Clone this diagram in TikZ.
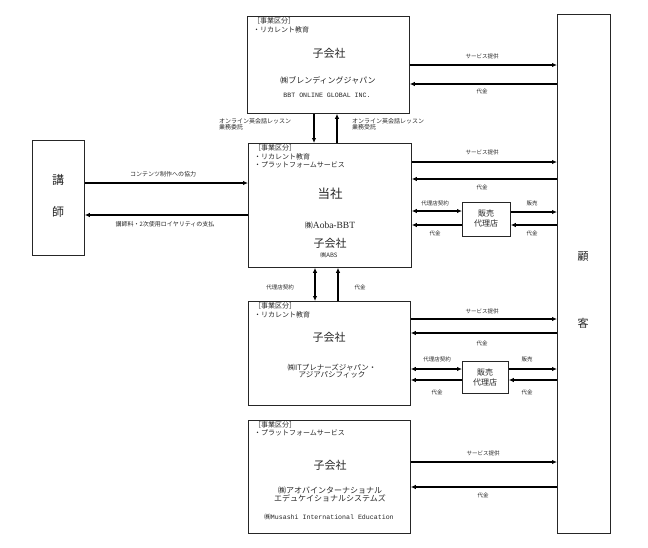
\documentclass[tikz,border=0pt]{standalone}
\usepackage{fontspec}
\setmainfont{Noto Sans CJK JP}
\newfontfamily\lmono{Liberation Mono}
\newfontfamily\lserif{Liberation Serif}
\usetikzlibrary{arrows.meta}
\newcommand\fs[1]{\fontsize{#1}{#1}\selectfont}
\begin{document}
\begin{tikzpicture}[x=1pt,y=-1pt,
  box/.style={draw=black!85, line width=0.8pt, inner sep=0, anchor=north west},
  arr/.style={line width=1.3pt, -{Latex[length=5pt,width=4.5pt]}},
  darr/.style={line width=1.3pt, {Latex[length=5pt,width=4.5pt]}-{Latex[length=5pt,width=4.5pt]}},
  lbl/.style={font=\fs{6}, inner sep=0, text=black!85},
  slbl/.style={font=\fs{5.5}, inner sep=0, text=black!85},
  head/.style={font=\fs{7}, inner sep=0, anchor=west, text=black!85},
  big/.style={font=\fs{11}, inner sep=0, text=black!85},
  mid/.style={font=\fs{8}, inner sep=0, text=black!85, align=center}]
\useasboundingbox (0,0) rectangle (648,547);

% boxes
\node[box, minimum width=162pt, minimum height=97pt] (top) at (247,16) {};
\node[box, minimum width=163pt, minimum height=124pt] (main) at (248,143) {};
\node[box, minimum width=162pt, minimum height=104pt] (it) at (248,301) {};
\node[box, minimum width=162pt, minimum height=113pt] (aoba) at (248,420) {};
\node[box, minimum width=52pt, minimum height=115pt] (teach) at (32,140) {};
\node[box, minimum width=53pt, minimum height=519pt] (cust) at (557,14) {};
\node[box, minimum width=48pt, minimum height=34pt] (ag1) at (462,202) {};
\node[box, minimum width=46pt, minimum height=32pt] (ag2) at (462,361) {};

% top box text
\node[head] (t1) at (253,21) {［事業区分］};
\node[head] (t2) at (253,30) {・リカレント教育};
\node[big] (t3) at (329,53) {子会社};
\node[mid] (t4) at (328,80) {㈱ブレンディングジャパン};
\node[inner sep=0, font=\lmono\fs{6.6}, text=black!85] (t5) at (327,95) {BBT ONLINE GLOBAL INC.};

% main box text
\node[head] (m1) at (254,148) {［事業区分］};
\node[head] (m2) at (254,157) {・リカレント教育};
\node[head] (m3) at (254,165) {・プラットフォームサービス};
\node[font=\fs{12.5}, inner sep=0, text=black!85] (m4) at (330,194) {当社};
\node[inner sep=0, text=black!85] (m5) at (330,225) {{\fs{8}㈱}{\lserif\fs{9.5}Aoba-BBT}};
\node[big] (m6) at (330,243) {子会社};
\node[inner sep=0, font=\fs{6}, text=black!85] (m7) at (329,255) {㈱ABS};

% it box text
\node[head] (i1) at (254,306) {［事業区分］};
\node[head] (i2) at (254,315) {・リカレント教育};
\node[big] (i3) at (329,337) {子会社};
\node[mid, font=\fs{7.5}] (i4) at (332,371) {㈱ITプレナーズジャパン・\\アジアパシフィック};

% aoba box text
\node[head] (a1) at (254,425) {［事業区分］};
\node[head] (a2) at (254,433) {・プラットフォームサービス};
\node[big] (a3) at (330,465) {子会社};
\node[mid, font=\fs{8}] (a4) at (330,494.5) {㈱アオバインターナショナル\\エデュケイショナルシステムズ};
\node[inner sep=0, text=black!85] (a5) at (329,517) {{\fs{6.6}㈱}{\lmono\fs{6.6}Musashi International Education}};

% teacher / customer
\node[font=\fs{12}, inner sep=0, text=black!85] (tc1) at (58,180) {講};
\node[font=\fs{12}, inner sep=0, text=black!85] (tc2) at (58,212) {師};
\node[font=\fs{11}, inner sep=0, text=black!85] (c1) at (583,257) {顧};
\node[font=\fs{11}, inner sep=0, text=black!85] (c2) at (583,323) {客};

% agents
\node[mid, font=\fs{8}, align=center] (g1) at (486,218) {販売\\[2pt]代理店};
\node[mid, font=\fs{8}, align=center] (g2) at (485,377) {販売\\[2pt]代理店};

% top box connectors
\draw[arr] (top.east |- 0,65) -- (cust.west |- 0,65);
\draw[arr] (cust.west |- 0,84) -- (top.east |- 0,84);
\node[slbl] (l1) at (482,56) {サービス提供};
\node[slbl] (l2) at (482,91) {代金};

% top <-> main
\draw[arr] (top.south -| 314,0) -- (main.north -| 314,0);
\draw[arr] (main.north -| 337,0) -- (top.south -| 337,0);
\node[lbl, anchor=north west, align=left] (l3) at (219,118) {オンライン英会話レッスン\\業務委託};
\node[lbl, anchor=north west, align=left] (l4) at (352,118) {オンライン英会話レッスン\\業務受託};

% teacher <-> main
\draw[arr] (teach.east |- 0,183) -- (main.west |- 0,183);
\draw[arr] (main.west |- 0,215) -- (teach.east |- 0,215);
\node[lbl] (l5) at (163,174) {コンテンツ制作への協力};
\node[lbl] (l6) at (165,224) {講師料・2次使用ロイヤリティの支払};

% main -> customer
\draw[arr] (main.east |- 0,162) -- (cust.west |- 0,162);
\draw[arr] (cust.west |- 0,179) -- (main.east |- 0,179);
\node[slbl] (l7) at (482,152) {サービス提供};
\node[slbl] (l8) at (482,187) {代金};
\draw[darr] (main.east |- 0,211) -- (ag1.west |- 0,211);
\draw[arr] (ag1.west |- 0,225) -- (main.east |- 0,225);
\draw[arr] (ag1.east |- 0,212) -- (cust.west |- 0,212);
\draw[arr] (cust.west |- 0,225) -- (ag1.east |- 0,225);
\node[slbl] (l9) at (435,203) {代理店契約};
\node[slbl] (l10) at (435,233) {代金};
\node[slbl] (l11) at (532,203) {販売};
\node[slbl] (l12) at (532,233) {代金};

% main <-> it
\draw[darr] (main.south -| 315,0) -- (it.north -| 315,0);
\draw[arr] (it.north -| 338,0) -- (main.south -| 338,0);
\node[slbl] (l13) at (280,287) {代理店契約};
\node[slbl] (l14) at (360,287) {代金};

% it -> customer
\draw[arr] (it.east |- 0,319) -- (cust.west |- 0,319);
\draw[arr] (cust.west |- 0,333) -- (it.east |- 0,333);
\node[slbl] (l15) at (482,311) {サービス提供};
\node[slbl] (l16) at (482,343) {代金};
\draw[darr] (it.east |- 0,369) -- (ag2.west |- 0,369);
\draw[arr] (ag2.west |- 0,380) -- (it.east |- 0,380);
\draw[arr] (ag2.east |- 0,369) -- (cust.west |- 0,369);
\draw[arr] (cust.west |- 0,380) -- (ag2.east |- 0,380);
\node[slbl] (l17) at (437,359) {代理店契約};
\node[slbl] (l18) at (437,392) {代金};
\node[slbl] (l19) at (527,359) {販売};
\node[slbl] (l20) at (527,392) {代金};

% aoba -> customer
\draw[arr] (aoba.east |- 0,462) -- (cust.west |- 0,462);
\draw[arr] (cust.west |- 0,487) -- (aoba.east |- 0,487);
\node[slbl] (l21) at (483,453) {サービス提供};
\node[slbl] (l22) at (483,495) {代金};
\end{tikzpicture}
\end{document}
